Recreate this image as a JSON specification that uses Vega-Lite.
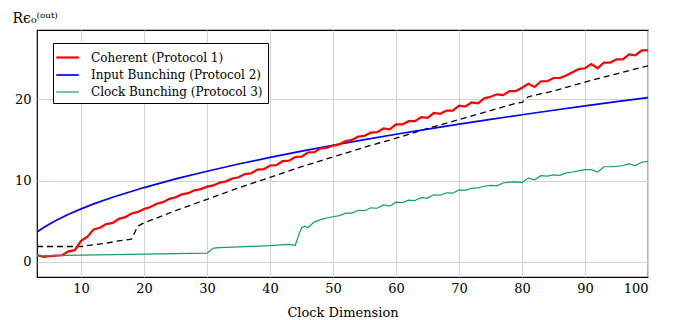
{
  "$schema": "https://vega.github.io/schema/vega-lite/v6.json",
  "width": 611,
  "height": 247,
  "autosize": {"type": "none"},
  "padding": {"left": 37, "top": 30, "right": 25, "bottom": 43},
  "background": "white",
  "config": {
    "font": "DejaVu Serif, serif",
    "view": {"stroke": "black", "strokeWidth": 1.2},
    "axis": {
      "labelFont": "DejaVu Serif, serif",
      "labelFontSize": 13,
      "labelColor": "black",
      "titleFont": "DejaVu Serif, serif",
      "titleFontSize": 13,
      "titleFontWeight": "normal",
      "titleColor": "black",
      "domain": false,
      "ticks": false,
      "gridColor": "#d3d3d3",
      "gridWidth": 1
    },
    "legend": {
      "labelFont": "DejaVu Serif, serif",
      "labelFontSize": 12,
      "labelColor": "black",
      "labelLimit": 400
    }
  },
  "datasets": {
    "curves": [
      {"series": "Input Bunching (Protocol 2)", "x": 3, "y": 3.66},
      {"series": "Input Bunching (Protocol 2)", "x": 4, "y": 4.2},
      {"series": "Input Bunching (Protocol 2)", "x": 5, "y": 4.67},
      {"series": "Input Bunching (Protocol 2)", "x": 6, "y": 5.1},
      {"series": "Input Bunching (Protocol 2)", "x": 8, "y": 5.86},
      {"series": "Input Bunching (Protocol 2)", "x": 10, "y": 6.52},
      {"series": "Input Bunching (Protocol 2)", "x": 12, "y": 7.13},
      {"series": "Input Bunching (Protocol 2)", "x": 15, "y": 7.95},
      {"series": "Input Bunching (Protocol 2)", "x": 20, "y": 9.14},
      {"series": "Input Bunching (Protocol 2)", "x": 25, "y": 10.2},
      {"series": "Input Bunching (Protocol 2)", "x": 30, "y": 11.15},
      {"series": "Input Bunching (Protocol 2)", "x": 35, "y": 12.03},
      {"series": "Input Bunching (Protocol 2)", "x": 40, "y": 12.85},
      {"series": "Input Bunching (Protocol 2)", "x": 45, "y": 13.62},
      {"series": "Input Bunching (Protocol 2)", "x": 50, "y": 14.34},
      {"series": "Input Bunching (Protocol 2)", "x": 55, "y": 15.03},
      {"series": "Input Bunching (Protocol 2)", "x": 60, "y": 15.69},
      {"series": "Input Bunching (Protocol 2)", "x": 65, "y": 16.32},
      {"series": "Input Bunching (Protocol 2)", "x": 70, "y": 16.93},
      {"series": "Input Bunching (Protocol 2)", "x": 75, "y": 17.52},
      {"series": "Input Bunching (Protocol 2)", "x": 80, "y": 18.09},
      {"series": "Input Bunching (Protocol 2)", "x": 85, "y": 18.64},
      {"series": "Input Bunching (Protocol 2)", "x": 90, "y": 19.17},
      {"series": "Input Bunching (Protocol 2)", "x": 95, "y": 19.69},
      {"series": "Input Bunching (Protocol 2)", "x": 100, "y": 20.2},

      {"series": "Coherent (Protocol 1)", "x": 3, "y": 0.86},
      {"series": "Coherent (Protocol 1)", "x": 4, "y": 0.62},
      {"series": "Coherent (Protocol 1)", "x": 5, "y": 0.72},
      {"series": "Coherent (Protocol 1)", "x": 6, "y": 0.78},
      {"series": "Coherent (Protocol 1)", "x": 7, "y": 0.82},
      {"series": "Coherent (Protocol 1)", "x": 8, "y": 1.3},
      {"series": "Coherent (Protocol 1)", "x": 9, "y": 1.45},
      {"series": "Coherent (Protocol 1)", "x": 10, "y": 2.6},
      {"series": "Coherent (Protocol 1)", "x": 11, "y": 3.1},
      {"series": "Coherent (Protocol 1)", "x": 12, "y": 4.0},
      {"series": "Coherent (Protocol 1)", "x": 13, "y": 4.2},
      {"series": "Coherent (Protocol 1)", "x": 14, "y": 4.65},
      {"series": "Coherent (Protocol 1)", "x": 15, "y": 4.8},
      {"series": "Coherent (Protocol 1)", "x": 16, "y": 5.3},
      {"series": "Coherent (Protocol 1)", "x": 17, "y": 5.5},
      {"series": "Coherent (Protocol 1)", "x": 18, "y": 5.95},
      {"series": "Coherent (Protocol 1)", "x": 19, "y": 6.15},
      {"series": "Coherent (Protocol 1)", "x": 20, "y": 6.5},
      {"series": "Coherent (Protocol 1)", "x": 21, "y": 6.75},
      {"series": "Coherent (Protocol 1)", "x": 22, "y": 7.15},
      {"series": "Coherent (Protocol 1)", "x": 23, "y": 7.35},
      {"series": "Coherent (Protocol 1)", "x": 24, "y": 7.75},
      {"series": "Coherent (Protocol 1)", "x": 25, "y": 7.95},
      {"series": "Coherent (Protocol 1)", "x": 26, "y": 8.3},
      {"series": "Coherent (Protocol 1)", "x": 27, "y": 8.45},
      {"series": "Coherent (Protocol 1)", "x": 28, "y": 8.8},
      {"series": "Coherent (Protocol 1)", "x": 29, "y": 8.95},
      {"series": "Coherent (Protocol 1)", "x": 30, "y": 9.25},
      {"series": "Coherent (Protocol 1)", "x": 31, "y": 9.4},
      {"series": "Coherent (Protocol 1)", "x": 32, "y": 9.75},
      {"series": "Coherent (Protocol 1)", "x": 33, "y": 9.9},
      {"series": "Coherent (Protocol 1)", "x": 34, "y": 10.25},
      {"series": "Coherent (Protocol 1)", "x": 35, "y": 10.4},
      {"series": "Coherent (Protocol 1)", "x": 36, "y": 10.8},
      {"series": "Coherent (Protocol 1)", "x": 37, "y": 10.9},
      {"series": "Coherent (Protocol 1)", "x": 38, "y": 11.35},
      {"series": "Coherent (Protocol 1)", "x": 39, "y": 11.4},
      {"series": "Coherent (Protocol 1)", "x": 40, "y": 11.85},
      {"series": "Coherent (Protocol 1)", "x": 41, "y": 11.9},
      {"series": "Coherent (Protocol 1)", "x": 42, "y": 12.4},
      {"series": "Coherent (Protocol 1)", "x": 43, "y": 12.45},
      {"series": "Coherent (Protocol 1)", "x": 44, "y": 12.9},
      {"series": "Coherent (Protocol 1)", "x": 45, "y": 12.95},
      {"series": "Coherent (Protocol 1)", "x": 46, "y": 13.45},
      {"series": "Coherent (Protocol 1)", "x": 47, "y": 13.5},
      {"series": "Coherent (Protocol 1)", "x": 48, "y": 13.95},
      {"series": "Coherent (Protocol 1)", "x": 49, "y": 14.0},
      {"series": "Coherent (Protocol 1)", "x": 50, "y": 14.3},
      {"series": "Coherent (Protocol 1)", "x": 51, "y": 14.45},
      {"series": "Coherent (Protocol 1)", "x": 52, "y": 14.85},
      {"series": "Coherent (Protocol 1)", "x": 53, "y": 15.0},
      {"series": "Coherent (Protocol 1)", "x": 54, "y": 15.4},
      {"series": "Coherent (Protocol 1)", "x": 55, "y": 15.5},
      {"series": "Coherent (Protocol 1)", "x": 56, "y": 15.9},
      {"series": "Coherent (Protocol 1)", "x": 57, "y": 15.95},
      {"series": "Coherent (Protocol 1)", "x": 58, "y": 16.4},
      {"series": "Coherent (Protocol 1)", "x": 59, "y": 16.3},
      {"series": "Coherent (Protocol 1)", "x": 60, "y": 16.9},
      {"series": "Coherent (Protocol 1)", "x": 61, "y": 16.9},
      {"series": "Coherent (Protocol 1)", "x": 62, "y": 17.3},
      {"series": "Coherent (Protocol 1)", "x": 63, "y": 17.3},
      {"series": "Coherent (Protocol 1)", "x": 64, "y": 17.8},
      {"series": "Coherent (Protocol 1)", "x": 65, "y": 17.7},
      {"series": "Coherent (Protocol 1)", "x": 66, "y": 18.3},
      {"series": "Coherent (Protocol 1)", "x": 67, "y": 18.2},
      {"series": "Coherent (Protocol 1)", "x": 68, "y": 18.6},
      {"series": "Coherent (Protocol 1)", "x": 69, "y": 18.6},
      {"series": "Coherent (Protocol 1)", "x": 70, "y": 19.2},
      {"series": "Coherent (Protocol 1)", "x": 71, "y": 19.1},
      {"series": "Coherent (Protocol 1)", "x": 72, "y": 19.6},
      {"series": "Coherent (Protocol 1)", "x": 73, "y": 19.5},
      {"series": "Coherent (Protocol 1)", "x": 74, "y": 20.1},
      {"series": "Coherent (Protocol 1)", "x": 75, "y": 20.3},
      {"series": "Coherent (Protocol 1)", "x": 76, "y": 20.6},
      {"series": "Coherent (Protocol 1)", "x": 77, "y": 20.5},
      {"series": "Coherent (Protocol 1)", "x": 78, "y": 21.0},
      {"series": "Coherent (Protocol 1)", "x": 79, "y": 21.0},
      {"series": "Coherent (Protocol 1)", "x": 80, "y": 21.4},
      {"series": "Coherent (Protocol 1)", "x": 81, "y": 21.9},
      {"series": "Coherent (Protocol 1)", "x": 82, "y": 21.5},
      {"series": "Coherent (Protocol 1)", "x": 83, "y": 22.2},
      {"series": "Coherent (Protocol 1)", "x": 84, "y": 22.2},
      {"series": "Coherent (Protocol 1)", "x": 85, "y": 22.6},
      {"series": "Coherent (Protocol 1)", "x": 86, "y": 22.6},
      {"series": "Coherent (Protocol 1)", "x": 87, "y": 22.9},
      {"series": "Coherent (Protocol 1)", "x": 88, "y": 23.3},
      {"series": "Coherent (Protocol 1)", "x": 89, "y": 23.7},
      {"series": "Coherent (Protocol 1)", "x": 90, "y": 23.8},
      {"series": "Coherent (Protocol 1)", "x": 91, "y": 24.3},
      {"series": "Coherent (Protocol 1)", "x": 92, "y": 23.8},
      {"series": "Coherent (Protocol 1)", "x": 93, "y": 24.5},
      {"series": "Coherent (Protocol 1)", "x": 94, "y": 24.5},
      {"series": "Coherent (Protocol 1)", "x": 95, "y": 24.9},
      {"series": "Coherent (Protocol 1)", "x": 96, "y": 24.9},
      {"series": "Coherent (Protocol 1)", "x": 97, "y": 25.5},
      {"series": "Coherent (Protocol 1)", "x": 98, "y": 25.4},
      {"series": "Coherent (Protocol 1)", "x": 99, "y": 26.0},
      {"series": "Coherent (Protocol 1)", "x": 100, "y": 26.0},

      {"series": "Clock Bunching (Protocol 3)", "x": 3, "y": 0.75},
      {"series": "Clock Bunching (Protocol 3)", "x": 10, "y": 0.85},
      {"series": "Clock Bunching (Protocol 3)", "x": 20, "y": 0.95},
      {"series": "Clock Bunching (Protocol 3)", "x": 30, "y": 1.08},
      {"series": "Clock Bunching (Protocol 3)", "x": 31, "y": 1.7},
      {"series": "Clock Bunching (Protocol 3)", "x": 32, "y": 1.75},
      {"series": "Clock Bunching (Protocol 3)", "x": 35, "y": 1.85},
      {"series": "Clock Bunching (Protocol 3)", "x": 40, "y": 2.0},
      {"series": "Clock Bunching (Protocol 3)", "x": 43, "y": 2.15},
      {"series": "Clock Bunching (Protocol 3)", "x": 44, "y": 2.05},
      {"series": "Clock Bunching (Protocol 3)", "x": 44.5, "y": 3.2},
      {"series": "Clock Bunching (Protocol 3)", "x": 45, "y": 4.2},
      {"series": "Clock Bunching (Protocol 3)", "x": 45.5, "y": 4.4},
      {"series": "Clock Bunching (Protocol 3)", "x": 46, "y": 4.2},
      {"series": "Clock Bunching (Protocol 3)", "x": 47, "y": 4.9},
      {"series": "Clock Bunching (Protocol 3)", "x": 48, "y": 5.2},
      {"series": "Clock Bunching (Protocol 3)", "x": 49, "y": 5.4},
      {"series": "Clock Bunching (Protocol 3)", "x": 50, "y": 5.55},
      {"series": "Clock Bunching (Protocol 3)", "x": 51, "y": 5.7},
      {"series": "Clock Bunching (Protocol 3)", "x": 52, "y": 6.0},
      {"series": "Clock Bunching (Protocol 3)", "x": 53, "y": 6.0},
      {"series": "Clock Bunching (Protocol 3)", "x": 54, "y": 6.35},
      {"series": "Clock Bunching (Protocol 3)", "x": 55, "y": 6.3},
      {"series": "Clock Bunching (Protocol 3)", "x": 56, "y": 6.65},
      {"series": "Clock Bunching (Protocol 3)", "x": 57, "y": 6.6},
      {"series": "Clock Bunching (Protocol 3)", "x": 58, "y": 7.0},
      {"series": "Clock Bunching (Protocol 3)", "x": 59, "y": 6.85},
      {"series": "Clock Bunching (Protocol 3)", "x": 60, "y": 7.35},
      {"series": "Clock Bunching (Protocol 3)", "x": 61, "y": 7.3},
      {"series": "Clock Bunching (Protocol 3)", "x": 62, "y": 7.6},
      {"series": "Clock Bunching (Protocol 3)", "x": 63, "y": 7.55},
      {"series": "Clock Bunching (Protocol 3)", "x": 64, "y": 7.9},
      {"series": "Clock Bunching (Protocol 3)", "x": 65, "y": 7.85},
      {"series": "Clock Bunching (Protocol 3)", "x": 66, "y": 8.25},
      {"series": "Clock Bunching (Protocol 3)", "x": 67, "y": 8.2},
      {"series": "Clock Bunching (Protocol 3)", "x": 68, "y": 8.5},
      {"series": "Clock Bunching (Protocol 3)", "x": 69, "y": 8.45},
      {"series": "Clock Bunching (Protocol 3)", "x": 70, "y": 8.85},
      {"series": "Clock Bunching (Protocol 3)", "x": 71, "y": 8.8},
      {"series": "Clock Bunching (Protocol 3)", "x": 72, "y": 9.05},
      {"series": "Clock Bunching (Protocol 3)", "x": 73, "y": 9.1},
      {"series": "Clock Bunching (Protocol 3)", "x": 74, "y": 9.3},
      {"series": "Clock Bunching (Protocol 3)", "x": 75, "y": 9.4},
      {"series": "Clock Bunching (Protocol 3)", "x": 76, "y": 9.35},
      {"series": "Clock Bunching (Protocol 3)", "x": 77, "y": 9.7},
      {"series": "Clock Bunching (Protocol 3)", "x": 78, "y": 9.8},
      {"series": "Clock Bunching (Protocol 3)", "x": 79, "y": 9.85},
      {"series": "Clock Bunching (Protocol 3)", "x": 80, "y": 9.75},
      {"series": "Clock Bunching (Protocol 3)", "x": 81, "y": 10.3},
      {"series": "Clock Bunching (Protocol 3)", "x": 82, "y": 10.1},
      {"series": "Clock Bunching (Protocol 3)", "x": 83, "y": 10.6},
      {"series": "Clock Bunching (Protocol 3)", "x": 84, "y": 10.55},
      {"series": "Clock Bunching (Protocol 3)", "x": 85, "y": 10.7},
      {"series": "Clock Bunching (Protocol 3)", "x": 86, "y": 10.65},
      {"series": "Clock Bunching (Protocol 3)", "x": 87, "y": 10.95},
      {"series": "Clock Bunching (Protocol 3)", "x": 88, "y": 11.05},
      {"series": "Clock Bunching (Protocol 3)", "x": 89, "y": 11.2},
      {"series": "Clock Bunching (Protocol 3)", "x": 90, "y": 11.35},
      {"series": "Clock Bunching (Protocol 3)", "x": 91, "y": 11.35},
      {"series": "Clock Bunching (Protocol 3)", "x": 92, "y": 11.05},
      {"series": "Clock Bunching (Protocol 3)", "x": 93, "y": 11.7},
      {"series": "Clock Bunching (Protocol 3)", "x": 94, "y": 11.7},
      {"series": "Clock Bunching (Protocol 3)", "x": 95, "y": 11.75},
      {"series": "Clock Bunching (Protocol 3)", "x": 96, "y": 11.85},
      {"series": "Clock Bunching (Protocol 3)", "x": 97, "y": 12.05},
      {"series": "Clock Bunching (Protocol 3)", "x": 98, "y": 11.85},
      {"series": "Clock Bunching (Protocol 3)", "x": 99, "y": 12.25},
      {"series": "Clock Bunching (Protocol 3)", "x": 100, "y": 12.35}
    ],
    "reference": [
      {"x": 3, "y": 1.9},
      {"x": 10, "y": 1.9},
      {"x": 12, "y": 2.1},
      {"x": 14, "y": 2.3},
      {"x": 16, "y": 2.6},
      {"x": 18, "y": 2.8},
      {"x": 19, "y": 4.4},
      {"x": 20, "y": 4.8},
      {"x": 25, "y": 6.3},
      {"x": 30, "y": 7.7},
      {"x": 35, "y": 9.1},
      {"x": 40, "y": 10.4},
      {"x": 45, "y": 11.7},
      {"x": 50, "y": 12.9},
      {"x": 55, "y": 14.1},
      {"x": 60, "y": 15.2},
      {"x": 65, "y": 16.4},
      {"x": 70, "y": 17.5},
      {"x": 75, "y": 18.6},
      {"x": 79, "y": 19.5},
      {"x": 80, "y": 19.6},
      {"x": 81, "y": 20.3},
      {"x": 85, "y": 21.0},
      {"x": 90, "y": 22.1},
      {"x": 95, "y": 23.1},
      {"x": 100, "y": 24.1}
    ]
  },
  "layer": [
    {
      "data": {"name": "reference"},
      "mark": {"type": "line", "color": "black", "strokeWidth": 1.3, "strokeDash": [6, 4], "clip": true},
      "encoding": {
        "x": {
          "field": "x",
          "type": "quantitative",
          "scale": {"domain": [3, 100], "nice": false, "zero": false},
          "axis": {
            "values": [10, 20, 30, 40, 50, 60, 70, 80, 90, 100],
            "title": "Clock Dimension",
            "labelPadding": 5,
            "titlePadding": 11
          }
        },
        "y": {
          "field": "y",
          "type": "quantitative",
          "scale": {"domain": [-1.85, 28.5], "nice": false, "zero": false},
          "axis": {
            "values": [0, 10, 20],
            "title": "Rϵ₀⁽ᵒᵘᵗ⁾",
            "titleFontSize": 14,
            "titleAngle": 0,
            "titleAlign": "left",
            "titleBaseline": "alphabetic",
            "titleX": -25,
            "titleY": -8,
            "labelPadding": 6
          }
        }
      }
    },
    {
      "data": {"name": "curves"},
      "mark": {"type": "line", "clip": true},
      "encoding": {
        "x": {"field": "x", "type": "quantitative"},
        "y": {"field": "y", "type": "quantitative"},
        "color": {
          "field": "series",
          "type": "nominal",
          "scale": {
            "domain": ["Coherent (Protocol 1)", "Input Bunching (Protocol 2)", "Clock Bunching (Protocol 3)"],
            "range": ["#ff0000", "#0000ff", "#10a060"]
          },
          "legend": {
            "title": null,
            "orient": "none",
            "legendX": 16,
            "legendY": 13,
            "symbolType": "M-1.4,0H1.4",
            "symbolStrokeWidth": 1.3,
            "symbolSize": 256,
            "rowPadding": 2,
            "padding": 5,
            "strokeColor": "black",
            "fillColor": "white",
            "labelOffset": 14,
            "labelLimit": 400
          }
        },
        "strokeWidth": {
          "field": "series",
          "type": "nominal",
          "scale": {
            "domain": ["Coherent (Protocol 1)", "Input Bunching (Protocol 2)", "Clock Bunching (Protocol 3)"],
            "range": [2.2, 1.2, 1.2]
          },
          "legend": null
        }
      }
    }
  ]
}
